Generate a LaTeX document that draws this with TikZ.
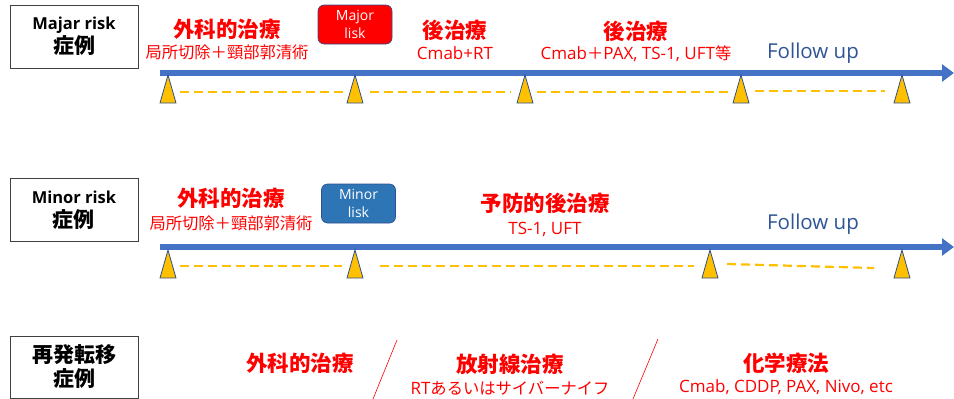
\documentclass[tikz,border=0pt]{standalone}
\usepackage{fontspec}
\setmainfont{Open Sans}
\newfontfamily\jpf{Noto Sans CJK JP}
\newcommand{\jp}[1]{{\fontsize{16.3}{18}\selectfont\jpf #1}}
\usetikzlibrary{arrows.meta}
\definecolor{rred}{HTML}{FF0000}
\definecolor{axisblue}{HTML}{4472C4}
\definecolor{fublue}{HTML}{2F5597}
\definecolor{tri}{HTML}{FFC000}
\definecolor{triedge}{HTML}{2F4F8F}
\definecolor{minorfill}{HTML}{2E75B6}
\tikzset{
  x=1pt,y=-1pt,
  casebox/.style={draw=black!75,line width=0.9pt,minimum width=128pt,minimum height=63pt,align=center,font=\fontsize{16.5}{24}\selectfont\bfseries,inner sep=0pt},
  headtxt/.style={text=rred,font=\fontsize{21.5}{22}\selectfont\bfseries\jpf,inner sep=0pt},
  subtxt/.style={text=rred,font=\fontsize{17}{18}\selectfont,inner sep=0pt},
  futxt/.style={text=fublue,font=\fontsize{20.5}{22}\selectfont,inner sep=0pt},
  riskbox/.style={rounded corners=6pt,draw=triedge,line width=0.6pt,minimum width=74pt,minimum height=39pt,align=center,text=white,font=\fontsize{14}{18}\selectfont,inner sep=0pt},
  axis/.style={axisblue,line width=6pt,-{Triangle[length=12pt,width=17pt]}},
  dash line/.style={tri,line width=2.2pt,dash pattern=on 9pt off 5pt},
  slash/.style={rred,line width=0.6pt},
}
\newcommand{\marker}[3]{% name, x, apex y
  \coordinate (#1) at (#2,#3);
  \filldraw[fill=tri,draw=triedge,line width=0.8pt] (#2,#3) -- (#2+8,#3+28) -- (#2-8,#3+28) -- cycle;
}
\newcommand{\bigjp}[1]{{\fontsize{21}{24}\selectfont\jpf #1}}
\begin{document}
\begin{tikzpicture}
\useasboundingbox (0,0) rectangle (954,399);
% ---------- Row 1 ----------
\node[casebox] (c1) at (74,36.5) {Majar risk\\\bigjp{症例}};
\node[headtxt] (h1a) at (227,29) {外科的治療};
\node[subtxt] (s1a) at (227,52) {\jp{局所切除＋頸部郭清術}};
\node[riskbox,fill=rred] (r1) at (355,24.5) {Major\\lisk};
\node[headtxt] (h1b) at (455,30) {後治療};
\node[subtxt] (s1b) at (455,53) {Cmab+RT};
\node[headtxt] (h1c) at (636,31) {後治療};
\node[subtxt] (s1c) at (636,54) {Cmab\jp{＋}PAX, TS-1, UFT\jp{等}};
\node[futxt] (f1) at (813,53) {Follow up};
\coordinate (a1s) at (160,73);
\coordinate (a1e) at (954,73);
\draw[axis] (a1s) -- (a1e);
\marker{t11}{168}{75}
\marker{t12}{355}{75}
\marker{t13}{525}{75}
\marker{t14}{741}{75}
\marker{t15}{902}{75}
\draw[dash line] (180,92) -- (343,92);
\draw[dash line] (370,92) -- (511,92);
\draw[dash line] (537,92) -- (728,92);
\draw[dash line] (755,91) -- (885,91);
% ---------- Row 2 ----------
\node[casebox] (c2) at (74,210) {Minor risk\\\bigjp{症例}};
\node[headtxt] (h2a) at (231,198) {外科的治療};
\node[subtxt] (s2a) at (231,223) {\jp{局所切除＋頸部郭清術}};
\node[riskbox,fill=minorfill] (r2) at (358.5,203.5) {Minor\\lisk};
\node[headtxt] (h2b) at (545,203) {予防的後治療};
\node[subtxt] (s2b) at (545,229) {TS-1, UFT};
\node[futxt] (f2) at (813,224) {Follow up};
\coordinate (a2s) at (160,247);
\coordinate (a2e) at (954,247);
\draw[axis] (a2s) -- (a2e);
\marker{t21}{168}{250}
\marker{t22}{355}{250}
\marker{t23}{710}{250}
\marker{t24}{902}{250}
\draw[dash line] (180,266) -- (342,266);
\draw[dash line] (380,266) -- (694,266);
\draw[dash line] (727,264) -- (874,268);
% ---------- Row 3 ----------
\node[casebox,minimum height=62pt] (c3) at (74,367) {\bigjp{再発転移}\\\bigjp{症例}};
\node[headtxt] (h3a) at (300,363) {外科的治療};
\node[headtxt] (h3b) at (510,364) {放射線治療};
\node[subtxt] (s3b) at (510,388) {RT\jp{あるいはサイバーナイフ}};
\node[headtxt] (h3c) at (786,363) {化学療法};
\node[subtxt] (s3c) at (786,387) {Cmab, CDDP, PAX, Nivo, etc};
\coordinate (sl1a) at (397,340);
\coordinate (sl1b) at (373,399);
\coordinate (sl2a) at (658,339);
\coordinate (sl2b) at (633,399);
\draw[slash] (sl1a) -- (sl1b);
\draw[slash] (sl2a) -- (sl2b);
\end{tikzpicture}
\end{document}
